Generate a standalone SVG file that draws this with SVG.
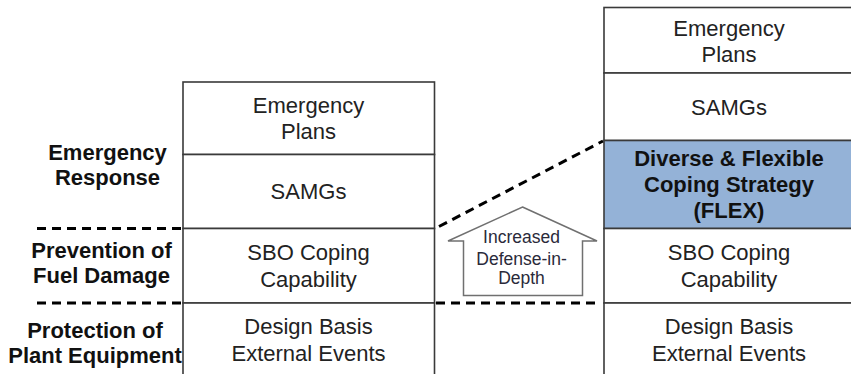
<svg xmlns="http://www.w3.org/2000/svg" width="851" height="374" viewBox="0 0 851 374">
<style>
.box{fill:#fff;stroke:#3a3a3a;stroke-width:1.6}
.flex{fill:#94b2d7;stroke:#3a3a3a;stroke-width:1.6}
.t{font-family:"Liberation Sans",Arial,sans-serif;font-size:22px;fill:#222;text-anchor:middle}
.b{font-family:"Liberation Sans",Arial,sans-serif;font-size:22px;font-weight:bold;fill:#111;text-anchor:middle}
.a{font-family:"Liberation Sans",Arial,sans-serif;font-size:17.5px;fill:#2a2a3a;text-anchor:middle}
.dash{stroke:#000;stroke-width:3;stroke-dasharray:9 6;fill:none}
</style>
<rect width="851" height="374" fill="#fff"/>
<g id="left-labels">
<text class="b" x="107.5" y="160">Emergency</text>
<text class="b" x="107.5" y="185">Response</text>
<text class="b" x="101.5" y="258">Prevention of</text>
<text class="b" x="101.5" y="283">Fuel Damage</text>
<text class="b" x="95" y="338">Protection of</text>
<text class="b" x="95" y="363">Plant Equipment</text>
</g>
<g id="left-emergency-plans"><rect class="box" x="183" y="82" width="251.5" height="72.5"/>
<text class="t" x="308.5" y="113">Emergency</text><text class="t" x="308.5" y="139">Plans</text></g>
<g id="left-samgs"><rect class="box" x="183" y="154.5" width="251.5" height="74"/>
<text class="t" x="308.5" y="199">SAMGs</text></g>
<g id="left-sbo"><rect class="box" x="183" y="228.5" width="251.5" height="74.5"/>
<text class="t" x="308.5" y="260">SBO Coping</text><text class="t" x="308.5" y="286.5">Capability</text></g>
<g id="left-dbee"><rect class="box" x="183" y="303" width="251.5" height="80"/>
<text class="t" x="308.5" y="334">Design Basis</text><text class="t" x="308.5" y="360.5">External Events</text></g>
<g id="right-emergency-plans"><rect class="box" x="604" y="7.5" width="252" height="65.5"/>
<text class="t" x="729" y="36">Emergency</text><text class="t" x="729" y="62">Plans</text></g>
<g id="right-samgs"><rect class="box" x="604" y="73" width="252" height="67.5"/>
<text class="t" x="729" y="115">SAMGs</text></g>
<g id="right-flex"><rect class="flex" x="604" y="140.5" width="252" height="88"/>
<text class="b" x="729" y="165.5">Diverse &amp; Flexible</text><text class="b" x="729" y="191.5">Coping Strategy</text><text class="b" x="729" y="217.5">(FLEX)</text></g>
<g id="right-sbo"><rect class="box" x="604" y="228.5" width="252" height="74.5"/>
<text class="t" x="729" y="260">SBO Coping</text><text class="t" x="729" y="286.5">Capability</text></g>
<g id="right-dbee"><rect class="box" x="604" y="303" width="252" height="80"/>
<text class="t" x="729" y="334">Design Basis</text><text class="t" x="729" y="360.5">External Events</text></g>
<g id="arrow">
<polygon points="522.5,207 597,241 582.5,241 582.5,295.5 463.5,295.5 463.5,241 448,241" fill="#fff" stroke="#707070" stroke-width="1.5"/>
<text class="a" x="521.5" y="243">Increased</text>
<text class="a" x="521.5" y="265">Defense-in-</text>
<text class="a" x="521.5" y="284">Depth</text>
</g>
<g id="connectors">
<line class="dash" x1="37" y1="228.5" x2="183" y2="228.5"/>
<line class="dash" x1="37" y1="303" x2="183" y2="303"/>
<line class="dash" x1="439" y1="226.5" x2="603" y2="141"/>
<line class="dash" x1="436" y1="303" x2="601" y2="303"/>
</g>
</svg>
